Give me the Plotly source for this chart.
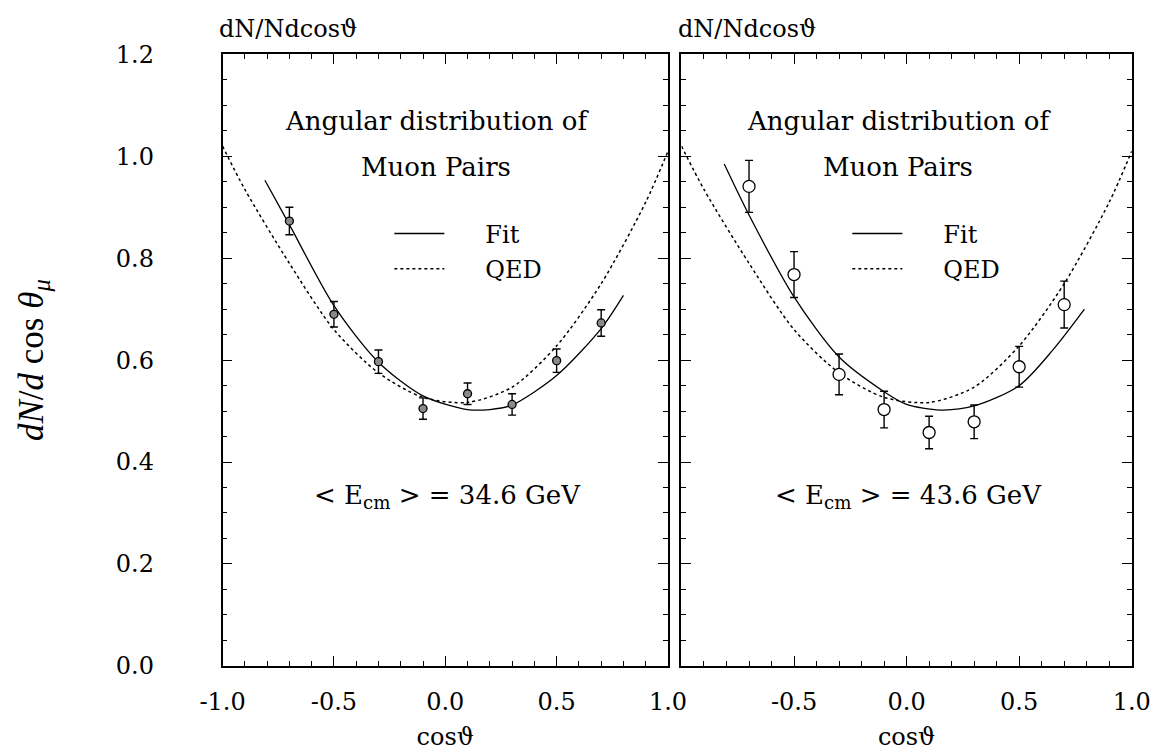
import plotly.graph_objects as go

# Bin centres in cos(theta)
cos_bins = [-0.7, -0.5, -0.3, -0.1, 0.1, 0.3, 0.5, 0.7]

# <E_cm> = 34.6 GeV
dist_346 = [0.873, 0.690, 0.597, 0.505, 0.534, 0.513, 0.599, 0.673]
err_346 = [0.027, 0.025, 0.023, 0.021, 0.021, 0.021, 0.023, 0.026]

# <E_cm> = 43.6 GeV
dist_436 = [0.941, 0.768, 0.572, 0.503, 0.458, 0.479, 0.587, 0.709]
err_436 = [0.051, 0.045, 0.040, 0.036, 0.032, 0.033, 0.040, 0.046]

# Fit curves
fit_cos_346 = [-0.81, -0.7, -0.5, -0.3, -0.1, 0.1, 0.2, 0.3, 0.5, 0.7, 0.8]
fit_346 = [0.953, 0.866, 0.707, 0.596, 0.530, 0.503, 0.503, 0.512, 0.570, 0.662, 0.727]
fit_cos_436 = [-0.81, -0.7, -0.5, -0.3, -0.1, 0.0, 0.15, 0.3, 0.5, 0.65, 0.79]
fit_436 = [0.985, 0.885, 0.724, 0.606, 0.538, 0.513, 0.502, 0.510, 0.550, 0.620, 0.700]

# QED expectation
qed_cos = [-1.0, -0.9, -0.7, -0.5, -0.3, -0.1, 0.1, 0.3, 0.5, 0.7, 0.9, 1.0]
qed = [1.02, 0.935, 0.79, 0.66, 0.575, 0.527, 0.517, 0.547, 0.628, 0.75, 0.91, 1.01]

x_ticks = [-1.0, -0.5, 0.0, 0.5, 1.0]
x_tick_text = ["-1.0", "-0.5", "0.0", "0.5", "1.0"]
y_ticks = [0.0, 0.2, 0.4, 0.6, 0.8, 1.0, 1.2]
y_tick_text = ["0.0", "0.2", "0.4", "0.6", "0.8", "1.0", "1.2"]

SERIF = "DejaVu Serif"
W, H = 1170, 753
LEG_PAD = "\u2003\u2002"  # spacing between legend sample and label

fig = go.Figure()

panels = [
    ("x", "y", "legend", dist_346, err_346, fit_cos_346, fit_346,
     dict(size=8, color="#8a8a8a", line=dict(color="black", width=1.3))),
    ("x2", "y2", "legend2", dist_436, err_436, fit_cos_436, fit_436,
     dict(size=12, color="white", line=dict(color="black", width=1.3))),
]

for xa, ya, leg, vals, errs, fx, fy, marker in panels:
    fig.add_trace(go.Scatter(
        x=fx, y=fy, xaxis=xa, yaxis=ya, mode="lines", name=LEG_PAD + "Fit",
        line=dict(color="black", width=1.3, shape="spline", smoothing=0.8),
        legend=leg, legendgroup=leg + "fit", hoverinfo="skip"))
    fig.add_trace(go.Scatter(
        x=qed_cos, y=qed, xaxis=xa, yaxis=ya, mode="lines", name=LEG_PAD + "QED",
        line=dict(color="black", width=1.5, dash="dot", shape="spline", smoothing=0.8),
        legend=leg, legendgroup=leg + "qed"))
    fig.add_trace(go.Scatter(
        x=cos_bins, y=vals, xaxis=xa, yaxis=ya, mode="markers",
        marker=marker, showlegend=False,
        error_y=dict(type="data", array=errs, color="black", thickness=1.4, width=4)))

xdom_left = [207 / W, 669 / W]
xdom_right = [683 / W, 1150 / W]
ydom = [1 - 677 / H, 1 - 42 / H]

axis_common = dict(
    showline=True, linecolor="black", linewidth=1.6, mirror="ticks",
    ticks="inside", ticklen=10, tickwidth=1.2, tickcolor="black",
    showgrid=False, zeroline=False,
    tickfont=dict(family=SERIF, size=24, color="black"),
)
minor_x = dict(dtick=0.1, ticks="inside", ticklen=5, tickcolor="black", tickwidth=1)
minor_y = dict(dtick=0.05, ticks="inside", ticklen=5, tickcolor="black", tickwidth=1)
xtitle = dict(text="cosϑ", font=dict(family=SERIF, size=24, color="black"), standoff=13)
legend_common = dict(xanchor="left", yanchor="top", bgcolor="rgba(0,0,0,0)",
                     itemwidth=50, tracegroupgap=1,
                     font=dict(family=SERIF, size=24, color="black"))

fig.update_layout(
    width=W, height=H,
    margin=dict(l=0, r=0, t=0, b=0),
    paper_bgcolor="white", plot_bgcolor="white",
    xaxis=dict(axis_common, domain=xdom_left, range=[-1, 1], anchor="y",
               tickvals=x_ticks, ticktext=x_tick_text, ticklabelstandoff=14,
               minor=minor_x, title=xtitle),
    xaxis2=dict(axis_common, domain=xdom_right, range=[-1, 1], anchor="y2",
                tickvals=x_ticks[1:], ticktext=x_tick_text[1:], ticklabelstandoff=14,
                minor=minor_x, title=xtitle),
    yaxis=dict(axis_common, domain=ydom, range=[0, 1.2], anchor="x",
               tickvals=y_ticks, ticktext=y_tick_text, ticklabelstandoff=62,
               minor=minor_y,
               title=dict(text="<i>dN</i>/<i>d</i> cos <i>θ</i><sub><i>μ</i></sub>",
                          font=dict(family="Liberation Serif", size=35, color="black"),
                          standoff=62)),
    yaxis2=dict(axis_common, domain=ydom, range=[0, 1.2], anchor="x2", matches="y",
                tickvals=y_ticks, showticklabels=False, minor=minor_y),
    legend=dict(legend_common, x=380 / W, y=1 - 205 / H),
    legend2=dict(legend_common, x=855 / W, y=1 - 205 / H),
    showlegend=True,
)

text_font = dict(family=SERIF, size=26, color="black")
for xa, ya, energy in [("x", "y", "34.6"), ("x2", "y2", "43.6")]:
    fig.add_annotation(text="dN/Ndcosϑ", xref=f"{xa} domain", yref="paper",
                       x=-0.012, y=1 - 16 / H, xanchor="left", yanchor="middle",
                       showarrow=False, font=dict(family=SERIF, size=24, color="black"))
    fig.add_annotation(text="Angular distribution of", xref=xa, yref=ya,
                       x=-0.035, y=1.07, showarrow=False, font=text_font)
    fig.add_annotation(text="Muon Pairs", xref=xa, yref=ya,
                       x=-0.04, y=0.98, showarrow=False, font=text_font)
    fig.add_annotation(text=f"&lt; E<sub>cm</sub> &gt; = {energy} GeV", xref=xa, yref=ya,
                       x=0.01, y=0.332, showarrow=False, font=text_font)

fig.write_html("out.html")
